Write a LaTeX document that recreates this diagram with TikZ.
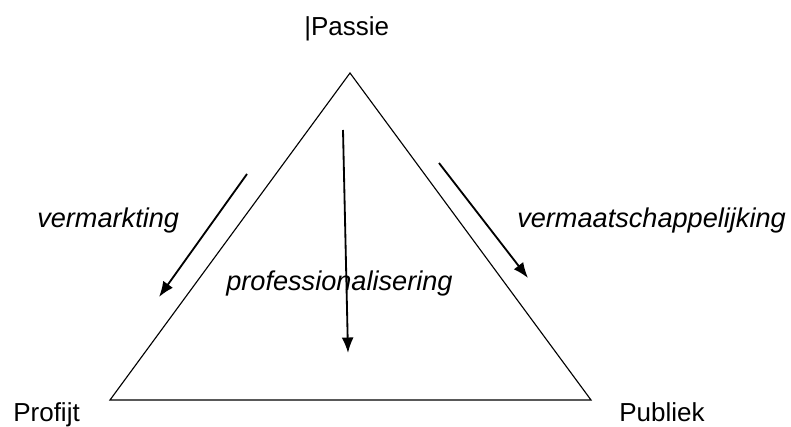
\documentclass[tikz,border=0pt]{standalone}
\usepackage{fontspec}
\setmainfont{Liberation Sans}
\usepackage{tikz}
\usetikzlibrary{arrows.meta}

\begin{document}
\begin{tikzpicture}[x=0.025cm, y=-0.025cm]
  \useasboundingbox (0,0) rectangle (791,427);
  \tikzset{every node/.style={inner sep=0pt, font=\fontsize{18.5}{20}\selectfont}}
  \tikzset{corner/.style={anchor=base west}}
  \tikzset{flow/.style={anchor=base west, font=\fontsize{19.3}{20}\selectfont\itshape}}
  % corners of the triangle
  \coordinate (top) at (350,73);
  \coordinate (left) at (110,400);
  \coordinate (right) at (591,400);
  \node[corner] (passie) at (304,36) {|Passie};
  \node[corner] (profijt) at (13,421) {Profijt};
  \node[corner] (publiek) at (619,421) {Publiek};
  % labels of the arrows
  \node[flow] (verm) at (37,227) {vermarkting};
  \node[flow] (prof) at (226,290) {professionalisering};
  \node[flow] (maat) at (517,227) {vermaatschappelijking};
  % arrow ends
  \coordinate (l1) at (247,174);
  \coordinate (l2) at (159,297);
  \coordinate (m1) at (343,130);
  \coordinate (m2) at (348,353);
  \coordinate (r1) at (439,163);
  \coordinate (r2) at (528,278);

  \draw[line width=0.8pt] (top) -- (left) -- (right) -- cycle;
  \tikzset{mystyle/.style={-{Latex[length=11pt,width=8.5pt]}, line width=1.3pt}};
  \path (l1) edge [mystyle] (l2);
  \path (m1) edge [mystyle] (m2);
  \path (r1) edge [mystyle] (r2);
\end{tikzpicture}
\end{document}
